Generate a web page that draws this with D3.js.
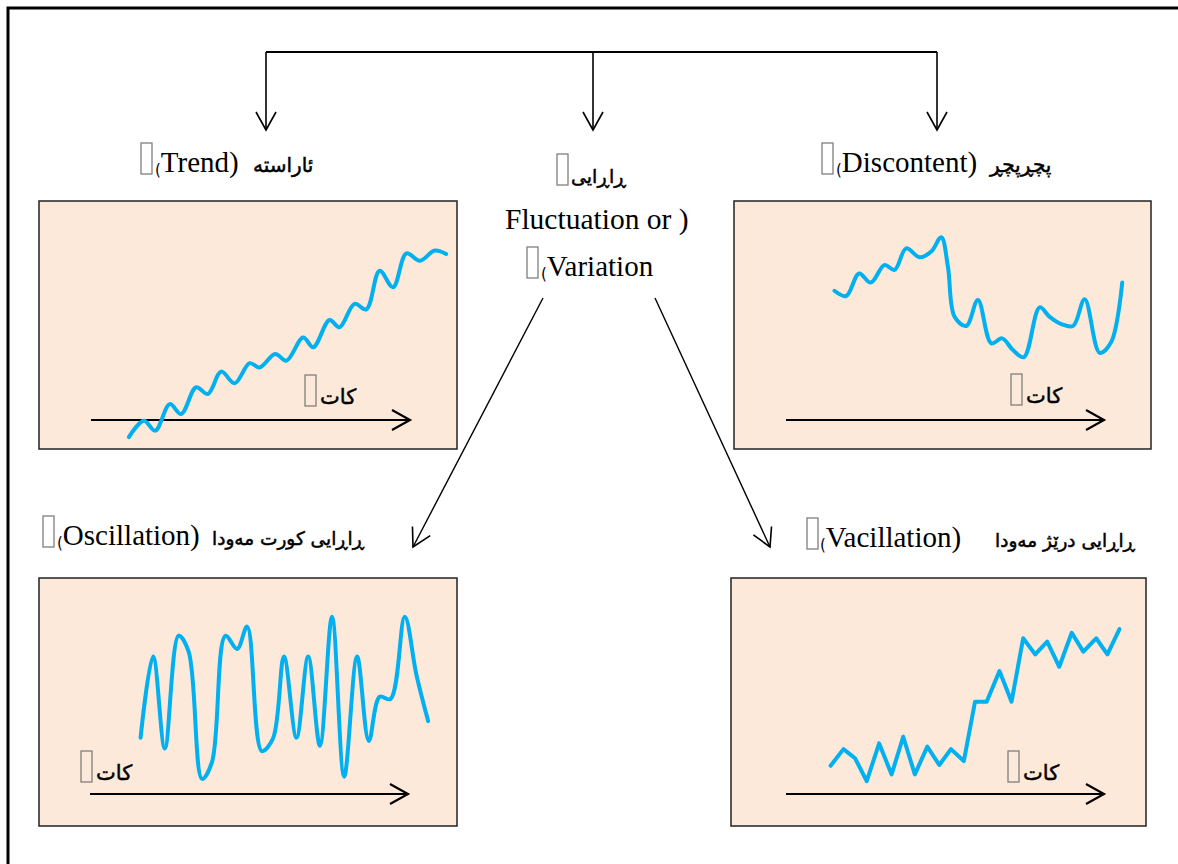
<!DOCTYPE html>
<html>
<head>
<meta charset="utf-8">
<script src="https://cdn.jsdelivr.net/npm/d3@7"></script>
<style>
  body { margin: 0; background: #fff; }
</style>
</head>
<body>
<div id="chart"></div>
<script>
// data: time (0-100 across each box) and value (0-100 from bottom of box)
var trendTime = [21.5, 25.1, 27.8, 31.3, 34.0, 37.6, 40.4, 43.6, 46.8, 50.4, 52.8, 56.5, 59.2, 63.2, 65.6, 69.5, 71.9, 75.5, 78.3, 81.5, 84.7, 87.9, 91.1, 94.7, 97.4];
var trendValue = [4.8, 11.4, 7.4, 18.1, 14.1, 24.9, 22.2, 31.2, 26.5, 34.6, 32.9, 38.3, 35.6, 45.0, 41.0, 52.0, 49.1, 58.5, 56.3, 71.9, 65.2, 78.9, 75.9, 80.0, 78.6];

var discontentTime = [24.1, 26.9, 30.0, 32.8, 36.1, 38.5, 41.3, 44.5, 47.3, 49.7, 51.3, 52.9, 55.7, 58.5, 61.7, 64.3, 66.9, 69.5, 73.3, 75.7, 78.5, 81.3, 84.1, 87.7, 90.5, 93.1];
var discontentValue = [63.8, 61.7, 70.8, 67.1, 74.2, 72.2, 80.9, 77.3, 79.6, 85.4, 73.5, 53.3, 49.6, 60.1, 42.6, 44.6, 39.9, 37.0, 57.1, 53.3, 50.4, 49.6, 60.4, 38.8, 43.3, 67.1];

var oscillationTime = [24.3, 27.3, 30.1, 33.4, 35.8, 39.0, 41.4, 44.6, 47.4, 49.8, 53.3, 56.0, 58.6, 61.6, 64.4, 67.2, 70.1, 73.0, 76.1, 78.9, 81.5, 84.1, 87.5, 90.3, 93.1];
var oscillationValue = [35.6, 68.3, 31.3, 76.7, 70.3, 19.0, 25.9, 76.7, 71.4, 80.4, 30.2, 35.4, 68.3, 35.6, 68.3, 32.4, 84.4, 19.9, 68.3, 34.3, 52.1, 51.2, 84.4, 60.9, 42.3];

var vacillationTime = [24.0, 27.1, 29.9, 32.7, 35.7, 38.7, 41.5, 44.3, 47.3, 50.2, 53.0, 56.1, 58.8, 61.6, 64.7, 67.6, 70.4, 73.3, 76.2, 79.1, 82.1, 84.9, 88.0, 90.7, 93.6];
var vacillationValue = [24.3, 31.0, 27.3, 18.1, 33.3, 20.8, 36.0, 20.8, 32.0, 24.6, 31.0, 26.2, 50.1, 50.1, 62.5, 50.1, 75.7, 69.2, 74.3, 64.2, 77.9, 70.3, 75.7, 69.2, 79.4];

var latinTitles = ['Trend)', 'Discontent)', 'Oscillation)', 'Vacillation)'];
var kurdishTitles = ['ئاراستە', 'پچڕپچڕ', 'ڕاڕایی کورت مەودا', 'ڕاڕایی درێژ مەودا'];
var timeLabel = 'کات';
var centerKurdish = 'ڕاڕایی';
var centerLine2 = 'Fluctuation or )';
var centerLine3 = 'Variation';

var svgWidth = 1178;
var svgHeight = 864;

var latinFont = '"Liberation Serif", "Times New Roman", serif';
var arabicFont = '"DejaVu Sans", sans-serif';
var lineColor = '#00b0f0';
var boxFill = '#fde9d9';

var svg = d3.select('#chart')
    .append('svg')
    .attr('width', svgWidth)
    .attr('height', svgHeight);

// open arrow heads
var defs = svg.append('defs');
function addMarker(id, w) {
    defs.append('marker')
        .attr('id', id)
        .attr('markerUnits', 'userSpaceOnUse')
        .attr('viewBox', '-20 -12 24 24')
        .attr('refX', 0)
        .attr('refY', 0)
        .attr('markerWidth', 24)
        .attr('markerHeight', 24)
        .attr('orient', 'auto')
        .append('path')
            .attr('d', 'M-18,-10 L0,0 L-18,10')
            .attr('fill', 'none')
            .attr('stroke', '#000')
            .attr('stroke-width', w);
}
addMarker('arrowThin', 1.6);
addMarker('arrowThick', 2.2);

// outer frame (top and left only visible)
svg.append('path')
    .attr('d', 'M8,864 L8,8 L1178,8')
    .attr('fill', 'none')
    .attr('stroke', '#000')
    .attr('stroke-width', 3);

// top connector
svg.append('line')
    .attr('x1', 266).attr('y1', 52).attr('x2', 937).attr('y2', 52)
    .attr('stroke', '#000').attr('stroke-width', 2);
[266, 593, 937].forEach(function(x) {
    svg.append('line')
        .attr('x1', x).attr('y1', 52).attr('x2', x).attr('y2', 130)
        .attr('stroke', '#000').attr('stroke-width', 1.6)
        .attr('marker-end', 'url(#arrowThin)');
});

// diagonal arrows
svg.append('line')
    .attr('x1', 543).attr('y1', 298).attr('x2', 413).attr('y2', 547)
    .attr('stroke', '#000').attr('stroke-width', 1.4)
    .attr('marker-end', 'url(#arrowThin)');
svg.append('line')
    .attr('x1', 655).attr('y1', 298).attr('x2', 770).attr('y2', 547)
    .attr('stroke', '#000').attr('stroke-width', 1.4)
    .attr('marker-end', 'url(#arrowThin)');

function tofu(x, baseline) {
    svg.append('rect')
        .attr('x', x).attr('y', baseline - 29)
        .attr('width', 11).attr('height', 31)
        .attr('fill', 'none')
        .attr('stroke', '#7f7f7f')
        .attr('stroke-width', 1.3);
}

function kurdish(x, y, size, str) {
    return svg.append('text')
        .attr('x', x)
        .attr('y', y)
        .attr('direction', 'ltr')
        .attr('font-family', arabicFont)
        .attr('font-size', size)
        .attr('fill', '#000')
        .attr('stroke', '#000')
        .attr('stroke-width', 0.5)
        .text(str);
}

// titles
var titles = [
    {tofu: 141, latin: 155, kurd: 253, base: 172},
    {tofu: 822, latin: 836, kurd: 990, base: 172},
    {tofu: 43, latin: 57, kurd: 212, base: 545},
    {tofu: 807, latin: 820, kurd: 995, base: 547}
];
titles.forEach(function(t, i) {
    tofu(t.tofu, t.base);
    var txt = svg.append('text')
        .attr('x', t.latin)
        .attr('y', t.base)
        .attr('fill', '#000');
    txt.append('tspan')
        .attr('font-family', arabicFont)
        .attr('font-size', 15)
        .attr('dy', 3)
        .text('(');
    txt.append('tspan')
        .attr('font-family', latinFont)
        .attr('font-size', 29)
        .attr('dy', -3)
        .text(latinTitles[i]);
    kurdish(t.kurd, t.base, i >= 2 ? 18.5 : 20, kurdishTitles[i]);
});

// centre label
tofu(557, 183);
kurdish(571, 183, 19, centerKurdish);
svg.append('text')
    .attr('x', 505).attr('y', 229)
    .attr('font-family', latinFont)
    .attr('font-size', 29.5)
    .text(centerLine2);
tofu(527, 276);
var line3 = svg.append('text')
    .attr('x', 541).attr('y', 276);
line3.append('tspan')
    .attr('font-family', arabicFont)
    .attr('font-size', 15)
    .attr('dy', 3)
    .text('(');
line3.append('tspan')
    .attr('font-family', latinFont)
    .attr('font-size', 29)
    .attr('dy', -3)
    .text(centerLine3);

// panels
var panels = [
    {x: 39, y: 201, w: 418, h: 248, time: trendTime, value: trendValue, curve: d3.curveCatmullRom,
        axis: [52, 371, 219], label: [266, 203]},
    {x: 734, y: 201, w: 417, h: 248, time: discontentTime, value: discontentValue, curve: d3.curveCatmullRom,
        axis: [52, 370, 219], label: [277, 202]},
    {x: 39, y: 578, w: 418, h: 248, time: oscillationTime, value: oscillationValue, curve: d3.curveCatmullRom,
        axis: [51, 369, 216], label: [42, 202]},
    {x: 731, y: 578, w: 415, h: 248, time: vacillationTime, value: vacillationValue, curve: d3.curveLinear,
        axis: [55, 373, 216], label: [277, 202]}
];

panels.forEach(function(p) {
    var g = svg.append('g');

    g.append('rect')
        .attr('x', p.x).attr('y', p.y)
        .attr('width', p.w).attr('height', p.h)
        .attr('fill', boxFill)
        .attr('stroke', '#222')
        .attr('stroke-width', 1.5);

    var xScale = d3.scaleLinear().domain([0, 100]).range([p.x, p.x + p.w]);
    var yScale = d3.scaleLinear().domain([0, 100]).range([p.y + p.h, p.y]);

    // time axis arrow
    g.append('line')
        .attr('x1', p.x + p.axis[0]).attr('y1', p.y + p.axis[2])
        .attr('x2', p.x + p.axis[1]).attr('y2', p.y + p.axis[2])
        .attr('stroke', '#000').attr('stroke-width', 2.2)
        .attr('marker-end', 'url(#arrowThick)');

    // time label
    tofu(p.x + p.label[0], p.y + p.label[1]);
    kurdish(p.x + p.label[0] + 15, p.y + p.label[1], 21, timeLabel);

    var line = d3.line()
        .x(function(d, i) { return xScale(p.time[i]); })
        .y(function(d) { return yScale(d); })
        .curve(p.curve);

    g.append('path')
        .datum(p.value)
        .attr('d', line)
        .attr('fill', 'none')
        .attr('stroke', lineColor)
        .attr('stroke-width', 4)
        .attr('stroke-linejoin', 'round')
        .attr('stroke-linecap', 'round');
});
</script>
</body>
</html>
